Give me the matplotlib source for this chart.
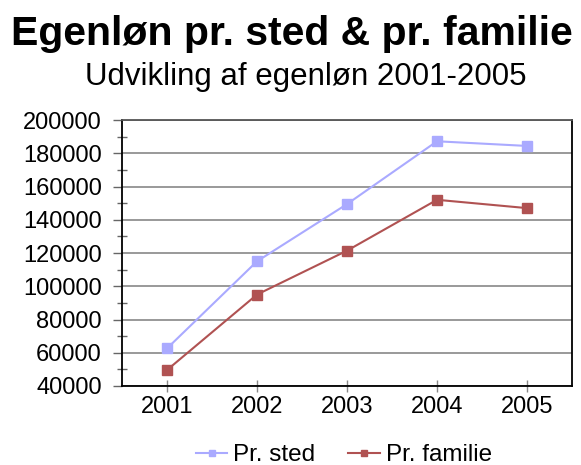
import matplotlib
matplotlib.use("Agg")
import matplotlib.pyplot as plt
from matplotlib.ticker import MultipleLocator

years = ["2001", "2002", "2003", "2004", "2005"]
pr_sted = [62600, 115000, 149400, 187200, 184400]
pr_familie = [49600, 95000, 121400, 152000, 147000]
yticks = [40000, 60000, 80000, 100000, 120000, 140000, 160000, 180000, 200000]

plt.rcParams['font.family'] = ['Liberation Sans', 'DejaVu Sans']

W, H = 581, 465
fig = plt.figure(figsize=(W / 100, H / 100), dpi=100)
left, right, top, bottom = 122, 572, 120, 386
ax = fig.add_axes([left / W, 1 - bottom / H, (right - left) / W, (bottom - top) / H])

x = list(range(1, len(years) + 1))
ax.plot(x, pr_sted, color='#AAAAFF', lw=1.5, marker='s', ms=7, mec='#AAAAFF', label='Pr. sted')
ax.plot(x, pr_familie, color='#B05252', lw=1.5, marker='s', ms=7, mec='#B05252', label='Pr. familie')

ax.set_xlim(0.5, len(years) + 0.5)
ax.set_ylim(40000, 200000)
ax.set_xticks(x)
ax.set_xticklabels(years)
ax.set_yticks(yticks)
ax.set_yticklabels([str(v) for v in yticks])
ax.yaxis.set_minor_locator(MultipleLocator(10000))
ax.grid(axis='y', color='#888888', lw=1.2)
ax.set_axisbelow(True)
ax.tick_params(axis='y', which='major', direction='out', length=6.5, width=1, color='#666666',
               labelsize=17, pad=8)
ax.tick_params(axis='y', which='minor', direction='inout', length=6.5, width=1, color='#666666')
ax.tick_params(axis='x', direction='inout', length=8.5, width=1, color='#888888', labelsize=17, pad=3)
for s in ax.spines.values():
    s.set_color('black')
    s.set_linewidth(1.3)
ax.spines['top'].set_color('#555555')

fig.text(292 / W, 1 - 45 / H, "Egenløn pr. sted & pr. familie", ha='center', va='baseline',
         fontsize=29.5, fontweight='bold')
fig.text(306 / W, 1 - 85 / H, "Udvikling af egenløn 2001-2005", ha='center', va='baseline',
         fontsize=22.5)

fig.legend(loc='center', bbox_to_anchor=(344 / W, 1 - 455 / H), ncol=2, frameon=False,
           fontsize=17.5, handlelength=1.3, handletextpad=0.25, columnspacing=1.35, markerscale=0.6)

fig.savefig("out.png", dpi=100)
